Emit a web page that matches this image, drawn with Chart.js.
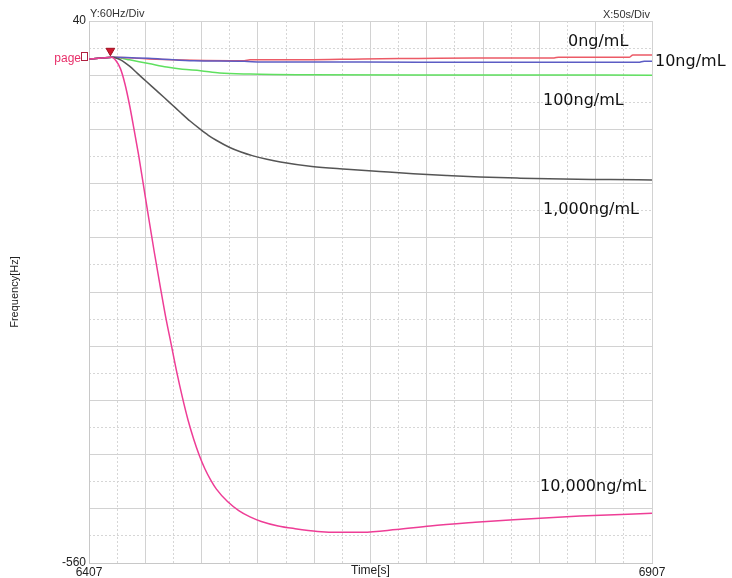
<!DOCTYPE html>
<html><head><meta charset="utf-8">
<script src="https://cdn.jsdelivr.net/npm/chart.js@4.4.1/dist/chart.umd.min.js"></script>
<style>html,body{margin:0;padding:0;background:#fff;}canvas{display:block;}</style>
</head><body>
<canvas id="c" width="732" height="578"></canvas>
<script>
// ---- axis ranges & tick labels ----
const X_MIN = 6407, X_MAX = 6907, X_DIV = 50;
const Y_MIN = -560, Y_MAX = 40, Y_DIV = 60;
const xTickLabels = ['6407', '6907'];
const yTickLabels = ['40', '-560'];
const seriesNames = ['0ng/mL', '10ng/mL', '100ng/mL', '1,000ng/mL', '10,000ng/mL'];

// ---- series (time [s], frequency [Hz]) ----
const t0ng = [6407, 6418, 6427, 6460, 6500, 6545, 6550, 6600, 6650, 6700, 6750, 6820, 6824, 6887, 6890, 6907];
const v0ng = [-2, -1, 0, -2, -3.5, -4, -3, -3, -2, -1.5, -1, -1, 0, 0, 2.5, 2.5];

const t10ng = [6407, 6418, 6427, 6470, 6500, 6545, 6560, 6650, 6750, 6850, 6895, 6900, 6907];
const v10ng = [-2, -1, 0, -2, -4, -4.5, -5.5, -5.5, -5.7, -5.7, -5.7, -4.5, -4.5];

const t100ng = [6407, 6418, 6427, 6435, 6443, 6460, 6476, 6490, 6506, 6523, 6550, 6600, 6700, 6800, 6907];
const v100ng = [-2, -1, 0, -1, -3, -7, -11, -13.5, -15, -17.5, -18.7, -19.5, -19.8, -19.8, -20];

const t1000ng = [6407, 6418, 6428, 6435, 6443, 6450, 6458, 6466, 6474, 6481, 6488, 6497, 6506, 6513, 6520, 6532, 6542, 6552, 6565, 6577, 6605, 6636, 6665, 6695, 6725, 6754, 6790, 6828, 6870, 6907];
const v1000ng = [-2, -1, 0, -3, -10, -18, -27, -36, -45, -53, -61, -71, -80, -86.5, -92, -100, -105, -109, -113, -116, -121, -124, -126.5, -129, -131, -132.7, -134, -135, -135.5, -136];

const t10000ng = [6407, 6418, 6427, 6431, 6435, 6439, 6443, 6447, 6451, 6455, 6460, 6465, 6470, 6475, 6480, 6485, 6490, 6495, 6500, 6505, 6510, 6515, 6520, 6530, 6540, 6550, 6560, 6575, 6590, 6610, 6630, 6650, 6680, 6710, 6750, 6784, 6843, 6907];
const v10000ng = [-2, -1, 0, -4, -13, -30, -53, -80, -108, -139, -178, -216, -252, -287, -318, -349, -377, -402, -423, -441, -456, -468, -478, -492, -502, -509, -514, -519, -522, -525, -526, -526, -523, -519, -515, -512, -508, -505];

// start marker (trigger)
const markerT = [6426];
const markerV = [7];

const pts = (t, v) => t.map((x, i) => ({x: x, y: v[i]}));

function line(label, t, v, color) {
  return {type: 'line', label, data: pts(t, v), borderColor: color, backgroundColor: color,
    borderWidth: 1.5, pointRadius: 0, cubicInterpolationMode: 'monotone', fill: false};
}

const textPlugin = {
  id: 'texts',
  afterDatasetsDraw(chart) {
    const ctx = chart.ctx;
    ctx.save();
    ctx.textBaseline = 'middle';
    ctx.fillStyle = '#333';
    ctx.font = '11px "Liberation Sans", Arial, sans-serif';
    ctx.textAlign = 'left';
    ctx.fillText('Y:60Hz/Div', 90, 14);
    ctx.textAlign = 'right';
    ctx.fillText('X:50s/Div', 650, 15);
    // page label
    ctx.fillStyle = '#e8306a';
    ctx.font = '12px "Liberation Sans", Arial, sans-serif';
    ctx.fillText('page', 81, 59);
    ctx.strokeStyle = '#b02040';
    ctx.lineWidth = 1;
    ctx.strokeRect(81.5, 52.5, 6, 8);
    // curve labels
    ctx.fillStyle = '#111';
    ctx.font = '16px "DejaVu Sans", sans-serif';
    ctx.textAlign = 'left';
    const lab = [[seriesNames[0], 568, 42], [seriesNames[1], 655, 62], [seriesNames[2], 543, 101],
                 [seriesNames[3], 543, 210], [seriesNames[4], 540, 487]];
    lab.forEach(([s, x, y]) => ctx.fillText(s, x, y));
    ctx.restore();
  }
};

const xMajor = [], xMinor = [], yMajor = [], yMinor = [];
for (let k = 0; k <= (X_MAX - X_MIN) / X_DIV; k++) xMajor.push(X_MIN + k * X_DIV);
for (let k = 0; k < (X_MAX - X_MIN) / X_DIV; k++) xMinor.push(X_MIN + k * X_DIV + X_DIV / 2);
for (let k = 0; k <= (Y_MAX - Y_MIN) / Y_DIV; k++) yMajor.push(Y_MIN + k * Y_DIV);
for (let k = 0; k < (Y_MAX - Y_MIN) / Y_DIV; k++) yMinor.push(Y_MIN + k * Y_DIV + Y_DIV / 2);

const tickFont = {family: '"Liberation Sans", Arial, sans-serif', size: 12};

new Chart(document.getElementById('c'), {
  data: {
    datasets: [
      {type: 'scatter', label: 'marker', data: pts(markerT, markerV), pointStyle: 'triangle', rotation: 180,
       pointRadius: 5, backgroundColor: '#d01830', borderColor: '#a01020', borderWidth: 1},
      line(seriesNames[4], t10000ng, v10000ng, '#ee3d96'),
      line(seriesNames[3], t1000ng, v1000ng, '#555555'),
      line(seriesNames[1], t10ng, v10ng, '#5c5cc4'),
      line(seriesNames[0], t0ng, v0ng, '#ec5a66'),
      line(seriesNames[2], t100ng, v100ng, '#5fe05f')
    ]
  },
  options: {
    responsive: false,
    animation: false,
    layout: {padding: {left: 0, top: 21, right: 80, bottom: 0}},
    plugins: {legend: {display: false}, tooltip: {enabled: false}},
    scales: {
      x: {
        type: 'linear', position: 'bottom', min: X_MIN, max: X_MAX,
        afterBuildTicks: s => { s.ticks = xMajor.map(v => ({value: v})); },
        afterFit: s => { s.height = 15; },
        ticks: {autoSkip: false, maxRotation: 0, padding: 2, color: '#222', font: tickFont,
          callback: v => v === X_MIN ? xTickLabels[0] : (v === X_MAX ? xTickLabels[1] : '')},
        grid: {color: '#d2d2d2', drawTicks: false},
        border: {color: '#c8c8c8'},
        title: {display: true, text: 'Time[s]', color: '#222', font: {family: tickFont.family, size: 12}, padding: 0}
      },
      x2: {
        type: 'linear', position: 'top', min: X_MIN, max: X_MAX,
        afterBuildTicks: s => { s.ticks = xMinor.map(v => ({value: v})); },
        afterFit: s => { s.height = 0; },
        ticks: {display: false},
        grid: {color: '#d6d6d6', drawTicks: false},
        border: {display: false, dash: [2, 2]}
      },
      y: {
        type: 'linear', position: 'left', min: Y_MIN, max: Y_MAX,
        afterBuildTicks: s => { s.ticks = yMajor.map(v => ({value: v})); },
        afterFit: s => { s.width = 89; },
        ticks: {autoSkip: false, padding: 3, color: '#222', font: tickFont,
          callback: v => v === Y_MAX ? yTickLabels[0] : (v === Y_MIN ? yTickLabels[1] : '')},
        grid: {color: '#d2d2d2', drawTicks: false},
        border: {color: '#c8c8c8'},
        title: {display: true, text: 'Frequency[Hz]', color: '#222', font: {family: tickFont.family, size: 11}, padding: {top: 8, bottom: 0}}
      },
      y2: {
        type: 'linear', position: 'right', min: Y_MIN, max: Y_MAX,
        afterBuildTicks: s => { s.ticks = yMinor.map(v => ({value: v})); },
        afterFit: s => { s.width = 0; },
        ticks: {display: false},
        grid: {color: '#d6d6d6', drawTicks: false},
        border: {display: false, dash: [2, 2]}
      }
    }
  },
  plugins: [textPlugin]
});
</script>
</body></html>
